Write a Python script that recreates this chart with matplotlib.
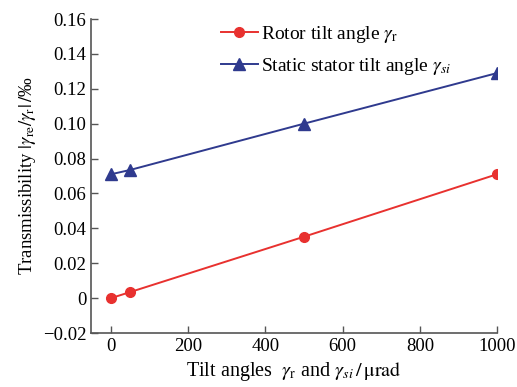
import matplotlib
matplotlib.use("Agg")
import matplotlib.pyplot as plt

plt.rcParams["font.family"] = ["Liberation Serif", "DejaVu Serif"]
plt.rcParams["mathtext.fontset"] = "stix"

tilt = [0, 50, 500, 1000]
rotor = [0.0, 0.0035, 0.0352, 0.071]
stator = [0.071, 0.0735, 0.100, 0.129]

RED = "#e8312f"
BLUE = "#2f3a8e"

fig = plt.figure(figsize=(5.17, 3.87), dpi=100)
ax = fig.add_axes([91 / 517, 1 - 333 / 387, 406 / 517, 314 / 387])

ax.plot(tilt, rotor, "-o", color=RED, lw=1.4, ms=7,
        label=r"Rotor tilt angle $\gamma_{\rm r}$")
ax.plot(tilt, stator, "-^", color=BLUE, lw=1.4, ms=8,
        label=r"Static stator tilt angle $\gamma_{si}$")

ax.set_xlim(-52, 1000)
ax.set_ylim(-0.02, 0.16)
ax.set_xticks([0, 200, 400, 600, 800, 1000])
ax.set_yticks([-0.02, 0, 0.02, 0.04, 0.06, 0.08, 0.10, 0.12, 0.14, 0.16])
ax.set_yticklabels(["\u22120.02", "0", "0.02", "0.04", "0.06", "0.08",
                    "0.10", "0.12", "0.14", "0.16"])
ax.tick_params(direction="in", length=5, width=1, labelsize=13.5, color="#555555")
ax.spines["top"].set_visible(False)
ax.spines["right"].set_visible(False)
for s in ("left", "bottom"):
    ax.spines[s].set_color("#555555")
    ax.spines[s].set_linewidth(1.2)

ax.set_xlabel(r"Tilt angles  $\gamma_{\rm r}$ and $\gamma_{si}\,/\,\mathrm{\mu rad}$",
              fontsize=14.5, labelpad=4)
ax.set_ylabel(r"Transmissibility $|\gamma_{\rm re}/\gamma_{\rm r}|\,/$" + "\u2030",
              fontsize=13.5, labelpad=3)

ax.legend(loc="upper left", bbox_to_anchor=(0.30, 1.01), frameon=False,
          fontsize=14, handlelength=1.9, handletextpad=0.2, labelspacing=0.6,
          borderaxespad=0)

fig.savefig("out.png", dpi=100)
